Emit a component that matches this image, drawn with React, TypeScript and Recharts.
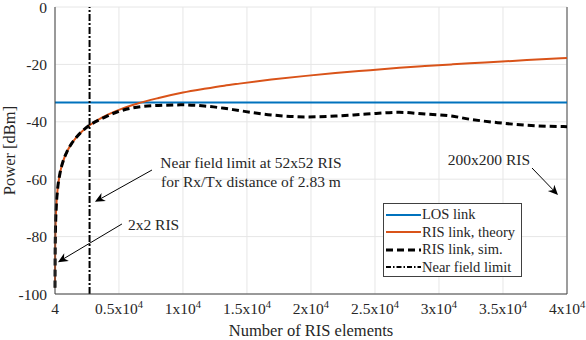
import React from 'react';
import { CartesianGrid, Line, LineChart, ReferenceLine, XAxis, YAxis } from 'recharts';

// number of RIS elements (NxN arrays)
const elements = [
  4, 16, 36, 64, 100, 196, 400, 625, 900, 1296, 1600, 2025, 2704, 3600, 4900, 6400, 8100, 10000,
  11664, 13225, 14400, 16900, 19600, 21904, 24336, 26896, 28900, 30976, 32400, 34596, 36864, 40000,
];
const theoryDb = [
  -97.8, -85.8, -78.7, -73.7, -69.8, -64.0, -57.8, -53.9, -50.8, -47.6, -45.8, -43.7, -41.2, -38.7,
  -36.0, -33.7, -31.7, -29.8, -28.5, -27.4, -26.7, -25.3, -24.0, -23.0, -22.1, -21.2, -20.6, -20.0,
  -19.6, -19.1, -18.5, -17.8,
];
const simDb = [
  -97.8, -85.8, -78.7, -73.7, -69.8, -64.0, -57.8, -53.9, -50.8, -47.6, -45.8, -43.7, -41.2, -39.0,
  -36.5, -34.9, -34.3, -34.1, -34.5, -35.3, -36.1, -37.6, -38.3, -38.0, -37.3, -36.7, -37.3, -38.0,
  -39.1, -40.3, -41.2, -41.7,
];
const losDb = -33.3;
const nearFieldLimit = 2704; // 52x52

const xTicks = [4, 5000, 10000, 15000, 20000, 25000, 30000, 35000, 40000];
const yTicks = [-100, -80, -60, -40, -20, 0];

const legendItems = [
  { name: 'LOS link', color: '#0072BD', width: 2, dash: undefined as string | undefined },
  { name: 'RIS link, theory', color: '#D95319', width: 2, dash: undefined },
  { name: 'RIS link, sim.', color: '#000000', width: 3, dash: '7 4' },
  { name: 'Near field limit', color: '#000000', width: 2, dash: '5 2 1.5 2' },
];

const annotations = [
  {
    lines: ['Near field limit at 52x52 RIS', 'for Rx/Tx distance of 2.83 m'],
    from: [7578, -56.8],
    to: [3125, -67.9],
    anchor: 'middle',
    dx: 99,
    dy: -2,
  },
  { lines: ['2x2 RIS'], from: [5234, -75.6], to: [234, -88.9], anchor: 'start', dx: 6, dy: 6 },
  { lines: ['200x200 RIS'], from: [37266, -56.1], to: [39297, -65.5], anchor: 'end', dx: -2, dy: -3 },
];

const data = elements.map((n, i) => ({ n, theory: theoryDb[i], sim: simDb[i] }));

const FONT = '"Liberation Serif", "Times New Roman", serif';
const TEXT = '#262626';

function XTick(props: any) {
  const { x, y, payload } = props;
  const v = Number(payload?.value);
  if (v === 4) {
    return (
      <text x={x} y={y + 12} textAnchor="middle" fontFamily={FONT} fontSize={15.5} fill={TEXT}>
        4
      </text>
    );
  }
  const m = v / 10000;
  return (
    <text x={x} y={y + 12} textAnchor="middle" fontFamily={FONT} fontSize={15.5} fill={TEXT}>
      <tspan>{`${m}x10`}</tspan>
      <tspan dy={-6} fontSize={10.5}>
        4
      </tspan>
    </text>
  );
}

function makeArrow(a: (typeof annotations)[number]) {
  return (p: any) => {
    const x1 = Number(p.x1);
    const y1 = Number(p.y1);
    const x2 = Number(p.x2);
    const y2 = Number(p.y2);
    const len = Math.hypot(x2 - x1, y2 - y1) || 1;
    const ux = (x2 - x1) / len;
    const uy = (y2 - y1) / len;
    const vx = -uy;
    const vy = ux;
    const L = 10;
    const W = 4.5;
    const head = [
      [x2, y2],
      [x2 - L * ux + W * vx, y2 - L * uy + W * vy],
      [x2 - (L - 3) * ux, y2 - (L - 3) * uy],
      [x2 - L * ux - W * vx, y2 - L * uy - W * vy],
    ]
      .map((q) => q.join(','))
      .join(' ');
    return (
      <g>
        <line x1={x1} y1={y1} x2={x2 - (L - 3) * ux} y2={y2 - (L - 3) * uy} stroke="#000" strokeWidth={1} />
        <polygon points={head} fill="#000" />
        <text
          x={x1 + a.dx}
          y={y1 + a.dy}
          textAnchor={a.anchor as any}
          fontFamily={FONT}
          fontSize={15.5}
          fill={TEXT}
        >
          {a.lines.map((t, i) => (
            <tspan key={i} x={x1 + a.dx} dy={i === 0 ? 0 : 19}>
              {t}
            </tspan>
          ))}
        </text>
      </g>
    );
  };
}

export default function App() {
  return (
    <div style={{ position: 'absolute', left: 0, top: 0, width: 586, height: 340, background: '#fff' }}>
      <LineChart width={586} height={340} data={data} margin={{ top: 7, right: 19, bottom: 0, left: 0 }}>
        <CartesianGrid stroke="#e6e6e6" strokeWidth={1} />
        <XAxis
          dataKey="n"
          type="number"
          domain={[4, 40000]}
          ticks={xTicks}
          interval={0}
          height={46}
          tickLine={false}
          axisLine={{ stroke: '#404040', strokeWidth: 1 }}
          tick={<XTick />}
          label={(props: any) => {
            const vb = props?.viewBox ?? {};
            return (
              <text
                x={Number(vb.x) + Number(vb.width) / 2}
                y={336}
                textAnchor="middle"
                fontFamily={FONT}
                fontSize={16.5}
                fill={TEXT}
              >
                Number of RIS elements
              </text>
            );
          }}
        />
        <YAxis
          type="number"
          domain={[-100, 0]}
          ticks={yTicks}
          interval={0}
          width={55}
          tickLine={false}
          axisLine={{ stroke: '#404040', strokeWidth: 1 }}
          tick={{ fill: TEXT, fontSize: 15.5, fontFamily: FONT }}
          label={(props: any) => {
            const vb = props?.viewBox ?? {};
            const cy = Number(vb.y) + Number(vb.height) / 2;
            return (
              <text
                x={15}
                y={cy}
                transform={`rotate(-90 15 ${cy})`}
                textAnchor="middle"
                fontFamily={FONT}
                fontSize={16.5}
                fill={TEXT}
              >
                Power [dBm]
              </text>
            );
          }}
        />
        <ReferenceLine x={40000} stroke="#808080" strokeWidth={1.5} />
        <ReferenceLine y={losDb} stroke="#0072BD" strokeWidth={2} />
        <Line
          dataKey="theory"
          stroke="#D95319"
          strokeWidth={2}
          dot={false}
          type="monotone"
          isAnimationActive={false}
        />
        <Line
          dataKey="sim"
          stroke="#000"
          strokeWidth={3}
          strokeDasharray="7 4"
          dot={false}
          type="monotone"
          isAnimationActive={false}
        />
        <ReferenceLine x={nearFieldLimit} stroke="#000" strokeWidth={2} strokeDasharray="7 2 2 2" />
        {annotations.map((a, i) => (
          <ReferenceLine
            key={i}
            segment={[
              { x: a.from[0], y: a.from[1] },
              { x: a.to[0], y: a.to[1] },
            ]}
            shape={makeArrow(a)}
          />
        ))}
      </LineChart>
      <div
        style={{
          position: 'absolute',
          left: 383,
          top: 203,
          width: 139,
          height: 74,
          border: '1px solid #404040',
          background: '#fff',
          boxSizing: 'border-box',
          paddingTop: 2,
        }}
      >
        {legendItems.map((it) => (
          <div
            key={it.name}
            style={{ display: 'flex', alignItems: 'center', height: 17.5, fontFamily: FONT, fontSize: 14.5, color: TEXT }}
          >
            <svg width={38} height={10} style={{ flex: 'none' }}>
              <line
                x1={2}
                y1={5}
                x2={37}
                y2={5}
                stroke={it.color}
                strokeWidth={it.width}
                strokeDasharray={it.dash}
              />
            </svg>
            <span style={{ whiteSpace: 'nowrap' }}>{it.name}</span>
          </div>
        ))}
      </div>
    </div>
  );
}
